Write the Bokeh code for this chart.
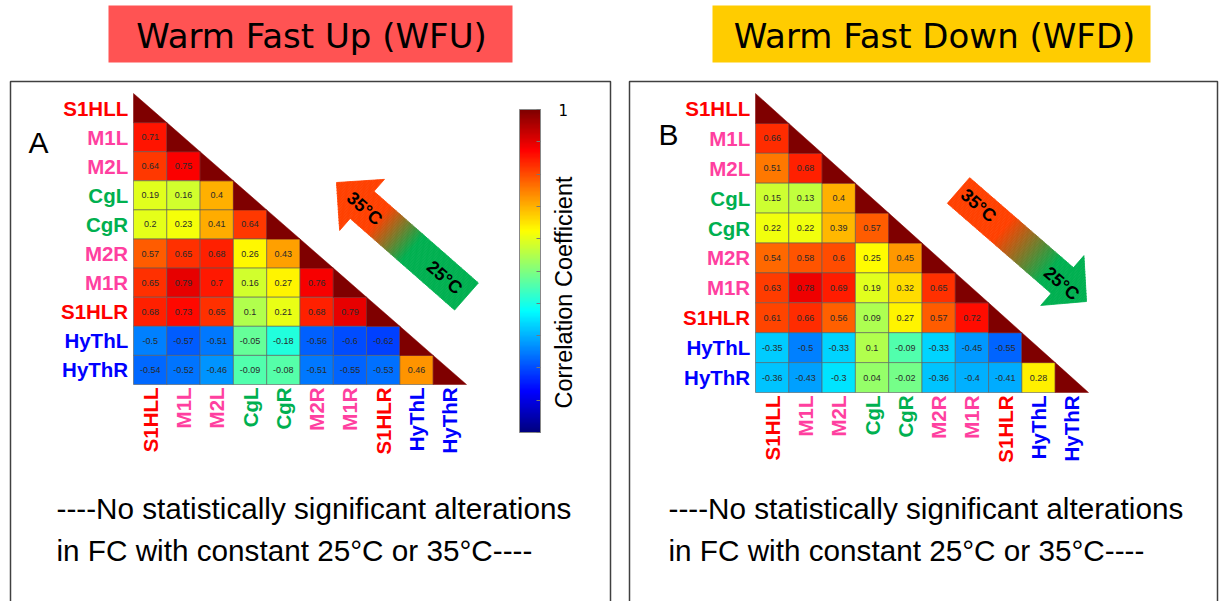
import numpy as np
from bokeh.plotting import figure
from bokeh.models import Range1d, ColumnDataSource, LinearColorMapper, ColorBar, FixedTicker
from bokeh.core.properties import value
from bokeh.embed import file_html
from bokeh.resources import INLINE

# ---------------- data ----------------
regions = ["S1HLL", "M1L", "M2L", "CgL", "CgR", "M2R", "M1R", "S1HLR", "HyThL", "HyThR"]
region_colors = ["#ff0000", "#ff3fa0", "#ff3fa0", "#00b050", "#00b050",
                 "#ff3fa0", "#ff3fa0", "#ff0000", "#0000ff", "#0000ff"]

# lower triangle of the correlation matrix, row by row (row i has i values)
wfu_lower = [
    [],
    [0.71],
    [0.64, 0.75],
    [0.19, 0.16, 0.4],
    [0.2, 0.23, 0.41, 0.64],
    [0.57, 0.65, 0.68, 0.26, 0.43],
    [0.65, 0.79, 0.7, 0.16, 0.27, 0.76],
    [0.68, 0.73, 0.65, 0.1, 0.21, 0.68, 0.79],
    [-0.5, -0.57, -0.51, -0.05, -0.18, -0.56, -0.6, -0.62],
    [-0.54, -0.52, -0.46, -0.09, -0.08, -0.51, -0.55, -0.53, 0.46],
]
wfd_lower = [
    [],
    [0.66],
    [0.51, 0.68],
    [0.15, 0.13, 0.4],
    [0.22, 0.22, 0.39, 0.57],
    [0.54, 0.58, 0.6, 0.25, 0.45],
    [0.63, 0.78, 0.69, 0.19, 0.32, 0.65],
    [0.61, 0.66, 0.56, 0.09, 0.27, 0.57, 0.72],
    [-0.35, -0.5, -0.33, 0.1, -0.09, -0.33, -0.45, -0.55],
    [-0.36, -0.43, -0.3, 0.04, -0.02, -0.36, -0.4, -0.41, 0.28],
]
diag_value = 1.0
cbar_low, cbar_high = -1.0, 1.0
cbar_ticks = [-1.0, -0.8, -0.6, -0.4, -0.2, 0.0, 0.2, 0.4, 0.6, 0.8, 1.0]
cbar_tick_labels = ["", "", "", "", "", "", "", "", "", "", "1"]
cbar_title = "Correlation Coefficient"
titles = ["Warm Fast Up (WFU)", "Warm Fast Down (WFD)"]
title_colors = ["#ff5353", "#ffcc00"]
panel_letters = ["A", "B"]
note_lines = ["----No statistically significant alterations",
              "in FC with constant 25\u00b0C or 35\u00b0C----"]
arrow_labels = ["35\u00b0C", "25\u00b0C"]

# ---------------- jet colormap ----------------
def _jet(t):
    r = np.clip(1.5 - np.abs(4 * t - 3), 0, 1)
    g = np.clip(1.5 - np.abs(4 * t - 2), 0, 1)
    b = np.clip(1.5 - np.abs(4 * t - 1), 0, 1)
    return "#%02x%02x%02x" % (int(r * 255), int(g * 255), int(b * 255))

jet256 = [_jet(t) for t in np.linspace(0, 1, 256)]
mapper = LinearColorMapper(palette=jet256, low=cbar_low, high=cbar_high)

W, H = 1219, 601
p = figure(width=W, height=H, x_range=Range1d(0, W), y_range=Range1d(H, 0),
           output_backend="svg", toolbar_location=None, min_border=0,
           x_axis_location=None, y_axis_location=None)
p.grid.visible = False
p.outline_line_color = None
p.background_fill_color = "white"

LAB = value("Liberation Sans")

# ---------------- title boxes ----------------
p.rect(x=[310, 931], y=[33.5, 33.5], width=[404, 438], height=[57, 57],
       fill_color=title_colors, line_color=None)
p.text(x=[311, 934], y=[35, 35], text=titles, text_align="center", text_baseline="middle",
       text_font=value("DejaVu Sans"), text_font_size="34px", text_color="black")

# ---------------- panel frames ----------------
p.quad(left=[10, 629], right=[610, 1217], top=[81, 81], bottom=[640, 640],
       fill_color=None, line_color="#404040", line_width=1.5)

# ---------------- heatmaps ----------------
def add_heatmap(tag, lower, x0, y0, cw, rh):
    xr, yr = "x_" + tag, "y_" + tag
    p.extra_x_ranges[xr] = Range1d(-x0 / cw, (W - x0) / cw)
    p.extra_y_ranges[yr] = Range1d((H - y0) / rh, -y0 / rh)
    n = len(regions)
    xs, ys, vs, ts = [], [], [], []
    for i, row in enumerate(lower):
        for j, v in enumerate(row):
            xs.append(j + 0.5)
            ys.append(i + 0.5)
            vs.append(v)
            ts.append(f"{v:g}")
    src = ColumnDataSource(dict(x=xs, y=ys, v=vs, t=ts))
    p.rect(x="x", y="y", width=1, height=1, source=src,
           fill_color={"field": "v", "transform": mapper},
           line_color="#5a5a5a", line_width=0.6,
           x_range_name=xr, y_range_name=yr)
    p.text(x="x", y="y", text="t", source=src, text_align="center",
           text_baseline="middle", text_font=LAB, text_font_size="9px",
           text_color="#2a2a2a", x_range_name=xr, y_range_name=yr)
    # diagonal (r = 1) drawn as lower-left half triangles
    dsrc = ColumnDataSource(dict(
        xs=[[i, i, i + 1] for i in range(n)],
        ys=[[i, i + 1, i + 1] for i in range(n)],
        v=[diag_value] * n))
    p.patches(xs="xs", ys="ys", source=dsrc,
              fill_color={"field": "v", "transform": mapper},
              line_color={"field": "v", "transform": mapper}, line_width=0.5,
              x_range_name=xr, y_range_name=yr)
    # row labels
    lsrc = ColumnDataSource(dict(x=[-0.16] * n, y=[i + 0.5 for i in range(n)],
                                 t=regions, c=region_colors,
                                 cx=[j + 0.5 for j in range(n)], cy=[n + 0.1] * n))
    p.text(x="x", y="y", text="t", text_color="c", source=lsrc, text_align="right",
           text_baseline="middle", text_font=LAB, text_font_style="bold",
           text_font_size="20.5px", x_range_name=xr, y_range_name=yr)
    p.text(x="cx", y="cy", text="t", text_color="c", source=lsrc, text_align="right",
           text_baseline="middle", text_font=LAB, text_font_style="bold",
           text_font_size="20.5px", angle=np.pi / 2,
           x_range_name=xr, y_range_name=yr)

add_heatmap("A", wfu_lower, 133, 93, 33.3, 29.1)
add_heatmap("B", wfd_lower, 755, 93, 33.3, 29.9)

# ---------------- colour bar ----------------
cb = ColorBar(color_mapper=mapper, orientation="vertical", width=21, height=323,
              location=(519, H - 432), padding=0, margin=0,
              ticker=FixedTicker(ticks=cbar_ticks),
              major_label_overrides={t: l for t, l in zip(cbar_ticks, cbar_tick_labels)},
              major_label_text_font="DejaVu Sans", major_label_text_font_size="15px",
              major_label_text_color="black", label_standoff=18,
              major_tick_in=4, major_tick_out=0, major_tick_line_color="#777777",
              bar_line_color="#888888", border_line_color=None,
              background_fill_alpha=0)
p.add_layout(cb, "center")
p.text(x=[563], y=[292], text=[cbar_title], angle=np.pi / 2, text_align="center",
       text_baseline="middle", text_font=LAB, text_font_size="23.5px", text_color="black")

# ---------------- arrows ----------------
RED = np.array([255, 64, 0])
GREEN = np.array([0, 176, 80])

def arrow(tail, tip, body_w, head_w, head_len, color_at, n=90):
    tail = np.array(tail, float)
    tip = np.array(tip, float)
    d = tip - tail
    L = np.hypot(*d)
    d = d / L
    nrm = np.array([-d[1], d[0]])
    hb = L - head_len
    us = sorted(set(list(np.linspace(0, L, n + 1)) + [hb]))
    xs, ys, cols = [], [], []
    for a, b in zip(us[:-1], us[1:]):
        if b <= hb + 1e-9:
            wa = wb = body_w / 2
        else:
            wa = head_w / 2 * (L - a) / head_len
            wb = head_w / 2 * (L - b) / head_len
        pts = [(a, -wa), (b, -wb), (b, wb), (a, wa)]
        P = [tail + u * d + v * nrm for u, v in pts]
        xs.append([q[0] for q in P])
        ys.append([q[1] for q in P])
        c = color_at((a + b) / 2 / L)
        cols.append("#%02x%02x%02x" % tuple(int(k) for k in c))
    p.patches(xs=xs, ys=ys, fill_color=cols, line_color=cols, line_width=0.8)

def blend(s, s0, s1, c0, c1):
    f = np.clip((s - s0) / (s1 - s0), 0, 1)
    return c0 * (1 - f) + c1 * f

# left: tail green (lower right) -> head red (upper left)
arrow((466, 296), (336, 182), 36, 68, 34, lambda s: blend(s, 0.42, 0.68, GREEN, RED))
# right: tail red (upper left) -> head green (lower right)
arrow((958, 190), (1086, 301), 34, 66, 32, lambda s: blend(s, 0.35, 0.72, RED, GREEN))

ang = -41
p.text(x=[364, 444, 978, 1061], y=[208, 277, 205, 283],
       text=[arrow_labels[0], arrow_labels[1], arrow_labels[0], arrow_labels[1]],
       angle=ang, angle_units="deg", text_align="center", text_baseline="middle",
       text_font=LAB, text_font_style="bold", text_font_size="18px", text_color="black")

# ---------------- panel letters ----------------
p.text(x=[38, 668], y=[142, 134], text=panel_letters, text_align="center",
       text_baseline="middle", text_font=LAB, text_font_size="30px", text_color="black")

# ---------------- notes ----------------
p.text(x=[56, 56, 668, 668], y=[508, 550, 508, 550],
       text=[note_lines[0], note_lines[1], note_lines[0], note_lines[1]],
       text_align="left", text_baseline="middle", text_font=LAB,
       text_font_size="29.7px", text_color="black")

open("out.html", "w").write(file_html(p, INLINE))
